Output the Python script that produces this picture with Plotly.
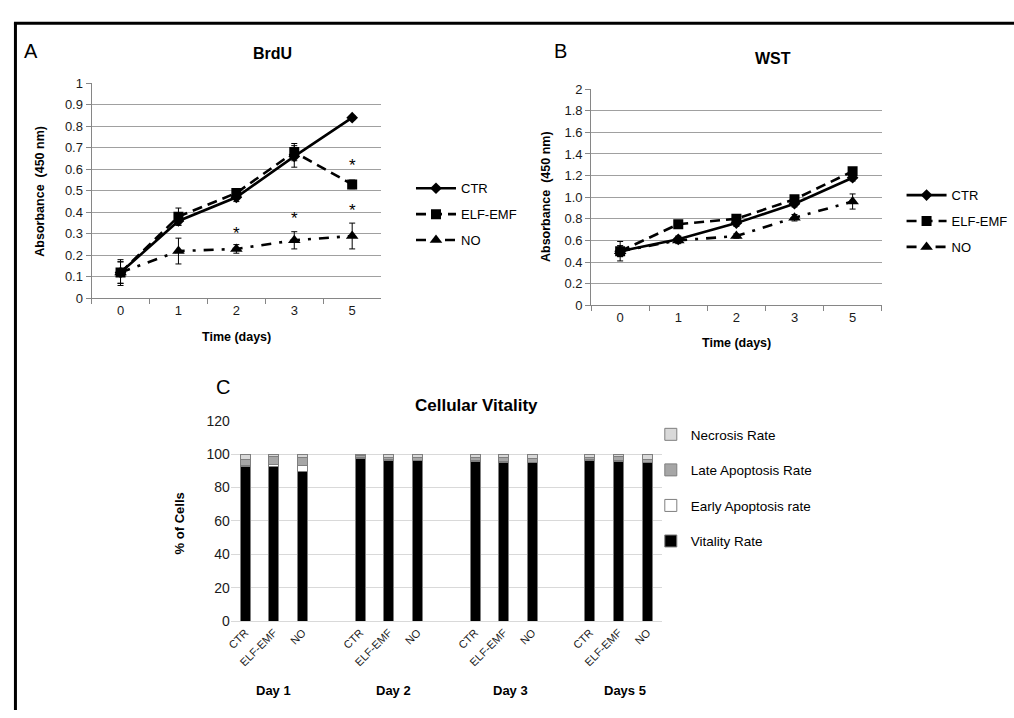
import plotly.graph_objects as go

W, H = 1014, 718

# ---------------- data ----------------
days = ["0", "1", "2", "3", "5"]

brdu_ctr = [0.12, 0.36, 0.47, 0.66, 0.84]
brdu_ctr_err = [0.05, 0.02, 0.02, 0.05, 0.01]
brdu_elf = [0.12, 0.38, 0.49, 0.68, 0.53]
brdu_elf_err = [0.06, 0.04, 0.02, 0.04, 0.02]
brdu_no = [0.12, 0.22, 0.23, 0.27, 0.29]
brdu_no_err = [0.05, 0.06, 0.02, 0.04, 0.06]

brdu_ticks = [0, 0.1, 0.2, 0.3, 0.4, 0.5, 0.6, 0.7, 0.8, 0.9, 1]
brdu_ticktext = ["0", "0.1", "0.2", "0.3", "0.4", "0.5", "0.6", "0.7", "0.8", "0.9", "1"]

brdu_star_days = ["2", "3", "5", "5"]
brdu_star_y = [0.30, 0.37, 0.62, 0.41]

wst_ctr = [0.50, 0.61, 0.76, 0.94, 1.18]
wst_ctr_err = [0.05, 0.03, 0.03, 0.03, 0.03]
wst_elf = [0.50, 0.75, 0.80, 0.98, 1.24]
wst_elf_err = [0.09, 0.03, 0.03, 0.03, 0.03]
wst_no = [0.50, 0.60, 0.64, 0.81, 0.96]
wst_no_err = [0.05, 0.03, 0.02, 0.03, 0.07]

wst_ticks = [0, 0.2, 0.4, 0.6, 0.8, 1.0, 1.2, 1.4, 1.6, 1.8, 2]
wst_ticktext = ["0", "0.2", "0.4", "0.6", "0.8", "1.0", "1.2", "1.4", "1.6", "1.8", "2"]

groups = ["Day 1", "Day 2", "Day 3", "Days 5"]
treatments = ["CTR", "ELF-EMF", "NO"]
vitality = [92.5, 92.3, 89.5, 97.5, 96.3, 95.9, 95.7, 94.7, 94.7, 95.9, 95.3, 94.7]
early_apoptosis = [0.5, 1.3, 3.8, 0.3, 0.2, 0.1, 0.2, 1.0, 0.5, 0.8, 1.0, 0.3]
late_apoptosis = [3.5, 4.8, 4.5, 1.2, 1.3, 1.8, 2.2, 2.0, 2.2, 1.4, 2.0, 1.6]
necrosis = [3.5, 1.6, 2.2, 1.0, 2.2, 2.2, 1.9, 2.3, 2.6, 1.9, 1.7, 3.4]

# ---------------- helpers ----------------
FONT = "Arial, Liberation Sans, sans-serif"


def px(x):
    return x / W


def py(y):
    return 1 - y / H


fig = go.Figure()

line_styles = {
    "CTR": dict(dash="solid", symbol="diamond", size=9),
    "ELF-EMF": dict(dash="10px,6px", symbol="square", size=10),
    "NO": dict(dash="10px,8px,3px,8px", symbol="triangle-up", size=11),
}


def add_lines(xa, ya, legend, series):
    for name, vals, errs in series:
        st = line_styles[name]
        fig.add_trace(go.Scatter(
            x=days, y=vals, name=name, mode="lines+markers",
            xaxis=xa, yaxis=ya, legend=legend, legendgroup=legend + name,
            line=dict(color="black", width=2.6, dash=st["dash"]),
            marker=dict(color="black", symbol=st["symbol"], size=st["size"]),
            error_y=dict(type="data", array=errs, visible=True,
                         color="black", thickness=1, width=3),
        ))


add_lines("x", "y", "legend", [("CTR", brdu_ctr, brdu_ctr_err),
                               ("ELF-EMF", brdu_elf, brdu_elf_err),
                               ("NO", brdu_no, brdu_no_err)])
add_lines("x2", "y2", "legend2", [("CTR", wst_ctr, wst_ctr_err),
                                  ("ELF-EMF", wst_elf, wst_elf_err),
                                  ("NO", wst_no, wst_no_err)])

# stacked bars (gap slots between day groups)
xpos = [g * 4 + t for g in range(len(groups)) for t in range(len(treatments))]
bar_series = [
    ("Vitality Rate", vitality, "black", 4),
    ("Early Apoptosis rate", early_apoptosis, "white", 3),
    ("Late Apoptosis Rate", late_apoptosis, "#a6a6a6", 2),
    ("Necrosis Rate", necrosis, "#d9d9d9", 1),
]
for name, vals, col, rank in bar_series:
    fig.add_trace(go.Bar(
        x=xpos, y=vals, name=name, xaxis="x3", yaxis="y3",
        legend="legend3", legendgroup="c" + name, legendrank=rank,
        width=0.35,
        marker=dict(color=col, line=dict(color="#7f7f7f", width=1)),
    ))

# ---------------- axes ----------------
grid_ab = "#a0a0a0"
axfont = dict(family=FONT, size=13, color="#1a1a1a")

fig.update_layout(
    width=W, height=H,
    margin=dict(l=0, r=0, t=0, b=0),
    paper_bgcolor="white", plot_bgcolor="white",
    barmode="stack",
    showlegend=True,
    font=dict(family=FONT, color="black"),
    xaxis=dict(domain=[px(87), px(378)], anchor="y", type="category",
               categoryorder="array", categoryarray=days,
               range=[-0.5, 4.5],
               showline=True, linecolor="#868686", linewidth=1,
               ticks="outside", ticklen=5, tickcolor="#868686",
               tickson="boundaries", showgrid=False, tickfont=axfont),
    yaxis=dict(domain=[py(297), py(77)], anchor="x", range=[0, 1],
               tickvals=brdu_ticks, ticktext=brdu_ticktext,
               showline=True, linecolor="#868686", linewidth=1,
               ticks="outside", ticklen=5, tickcolor="#868686",
               showgrid=True, gridcolor=grid_ab, gridwidth=1,
               zeroline=False, tickfont=axfont),
    xaxis2=dict(domain=[px(589), px(881)], anchor="y2", type="category",
                categoryorder="array", categoryarray=days,
                range=[-0.5, 4.5],
                showline=True, linecolor="#868686", linewidth=1,
                ticks="outside", ticklen=5, tickcolor="#868686",
                tickson="boundaries", showgrid=False, tickfont=axfont),
    yaxis2=dict(domain=[py(304), py(83)], anchor="x2", range=[0, 2],
                tickvals=wst_ticks, ticktext=wst_ticktext,
                showline=True, linecolor="#868686", linewidth=1,
                ticks="outside", ticklen=5, tickcolor="#868686",
                showgrid=True, gridcolor=grid_ab, gridwidth=1,
                zeroline=False, tickfont=axfont),
    xaxis3=dict(domain=[px(227), px(660)], anchor="y3",
                range=[-0.5, 14.5], tickvals=xpos,
                ticktext=[t for _ in groups for t in treatments],
                tickangle=-45, showline=True, linecolor="#d9d9d9",
                linewidth=1, ticks="", showgrid=False, zeroline=False,
                tickfont=dict(family=FONT, size=11, color="#1a1a1a")),
    yaxis3=dict(domain=[py(627), py(422)], anchor="x3", range=[0, 120],
                dtick=20, showline=False, ticks="",
                showgrid=True, gridcolor="#d9d9d9", gridwidth=1,
                zeroline=False,
                tickfont=dict(family=FONT, size=14, color="#1a1a1a")),
    legend=dict(x=px(408), y=py(211), xanchor="left", yanchor="middle",
                font=dict(family=FONT, size=13), tracegroupgap=6,
                bgcolor="rgba(0,0,0,0)", itemwidth=40),
    legend2=dict(x=px(901), y=py(218), xanchor="left", yanchor="middle",
                 font=dict(family=FONT, size=13), tracegroupgap=6,
                 bgcolor="rgba(0,0,0,0)", itemwidth=40),
    legend3=dict(x=px(649), y=py(491), xanchor="left", yanchor="middle",
                 font=dict(family=FONT, size=13.5), tracegroupgap=15,
                 bgcolor="rgba(0,0,0,0)", itemwidth=30),
)

# ---------------- annotations ----------------
ann = []


def text(x, y, s, size, bold=False, angle=0, xanchor="center", yanchor="middle"):
    ann.append(dict(
        x=px(x), y=py(y), xref="paper", yref="paper", showarrow=False,
        text=("<b>%s</b>" % s) if bold else s, textangle=angle,
        xanchor=xanchor, yanchor=yanchor,
        font=dict(family=FONT, size=size, color="black")))


text(26, 44, "A", 20)
text(269, 47, "BrdU", 16, bold=True)
text(35, 187, "Absorbance  (450 nm)", 12.5, bold=True, angle=-90)
text(233, 337, "Time (days)", 12.5, bold=True)

text(558, 44, "B", 20)
text(772, 52, "WST", 16, bold=True)
text(543, 193, "Absorbance  (450 nm)", 12.5, bold=True, angle=-90)
text(735, 343, "Time (days)", 12.5, bold=True)

text(219, 388, "C", 20)
text(474, 407, "Cellular Vitality", 17, bold=True)
text(175, 527, "% of Cells", 13, bold=True, angle=-90)
day_px = [270, 390, 508, 623]
for g, xp in zip(groups, day_px):
    text(xp, 698, g, 13, bold=True)

for d, yv in zip(brdu_star_days, brdu_star_y):
    ann.append(dict(x=days.index(d), y=yv, xref="x", yref="y", showarrow=False,
                    text="*", yanchor="middle",
                    font=dict(family=FONT, size=17, color="black")))

fig.update_layout(annotations=ann)

# outer frame (top and left edges)
fig.add_shape(type="line", xref="paper", yref="paper",
              x0=px(9), x1=1, y0=py(15.5), y1=py(15.5),
              line=dict(color="black", width=3))
fig.add_shape(type="line", xref="paper", yref="paper",
              x0=px(10.5), x1=px(10.5), y0=py(15), y1=0,
              line=dict(color="black", width=3))

fig.write_html("out.html",
               post_script="document.body.style.margin='0';",
               config={"displayModeBar": False})
